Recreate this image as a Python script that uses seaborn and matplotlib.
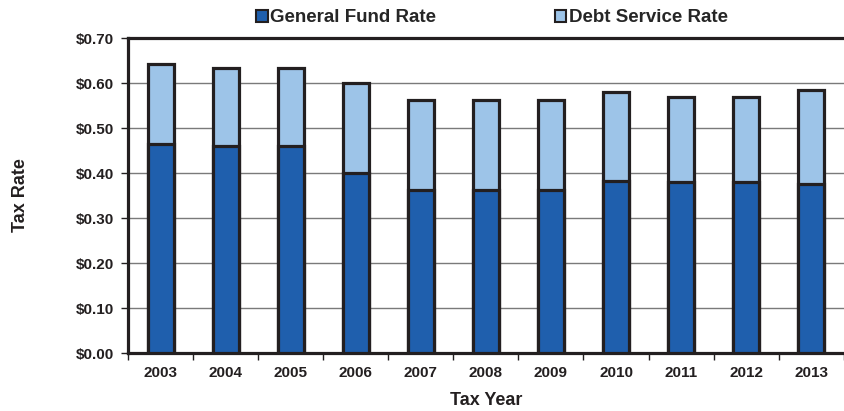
import matplotlib
matplotlib.use("Agg")
import matplotlib.pyplot as plt
import seaborn as sns
import pandas as pd
import numpy as np
from matplotlib.patches import Patch
from matplotlib.ticker import FixedLocator, FuncFormatter

years = ["2003", "2004", "2005", "2006", "2007", "2008", "2009", "2010", "2011", "2012", "2013"]
general_fund = [0.464, 0.459, 0.459, 0.401, 0.362, 0.362, 0.362, 0.383, 0.379, 0.379, 0.375]
debt_service = [0.178, 0.174, 0.174, 0.200, 0.200, 0.200, 0.200, 0.198, 0.190, 0.190, 0.209]

df = pd.DataFrame({"Year": years, "General": general_fund, "Debt": debt_service})
df["Total"] = df["General"] + df["Debt"]

sns.set_style("white")
plt.rcParams["font.family"] = ["Liberation Sans", "DejaVu Sans"]

dark = "#1F5FAD"
light = "#9DC4E8"
edge = "#231F20"

fig = plt.figure(figsize=(8.44, 4.11), dpi=100)
ax = fig.add_axes([0.1517, 0.141, 0.848, 0.7665])

for y in [0.1, 0.2, 0.3, 0.4, 0.5, 0.6]:
    ax.axhline(y, color="#7a7a7a", lw=1.0, zorder=0)

sns.barplot(data=df, x="Year", y="Total", color=light, edgecolor=edge, linewidth=2.3,
            width=0.4, saturation=1, ax=ax, zorder=2)
sns.barplot(data=df, x="Year", y="General", color=dark, edgecolor=edge, linewidth=2.3,
            width=0.4, saturation=1, ax=ax, zorder=3)

ax.set_ylim(0, 0.70)
ax.set_xlim(-0.5, len(years) - 0.5)
ax.set_yticks(np.arange(0, 0.71, 0.1))
ax.yaxis.set_major_formatter(FuncFormatter(lambda v, p: f"${v:.2f}"))
ax.tick_params(axis="y", which="major", direction="out", length=5, width=1, color=edge,
               labelsize=11, pad=5, left=True)
ax.tick_params(axis="x", which="major", length=0, labelsize=11, pad=9)
ax.xaxis.set_minor_locator(FixedLocator(np.arange(-0.5, len(years), 1.0)))
ax.tick_params(axis="x", which="minor", direction="out", length=5, width=1, color=edge, bottom=True)
for lab in ax.get_xticklabels() + ax.get_yticklabels():
    lab.set_fontweight("bold")
    lab.set_color("#231F20")

for side in ["top", "left", "bottom"]:
    ax.spines[side].set_visible(True)
    ax.spines[side].set_color(edge)
    ax.spines[side].set_linewidth(2.3)
ax.spines["right"].set_visible(False)

ax.set_xlabel("Tax Year", fontsize=13, fontweight="bold", color=edge, labelpad=9)
ax.set_ylabel("Tax Rate", fontsize=13, fontweight="bold", color=edge, labelpad=0)
ax.yaxis.set_label_coords(-0.139, 0.5)

handles = [Patch(facecolor=dark, edgecolor=edge, linewidth=1.5, label="General Fund Rate"),
           Patch(facecolor=light, edgecolor=edge, linewidth=1.5, label="Debt Service Rate")]
fig.legend(handles=handles, loc="center", bbox_to_anchor=(0.583, 0.957), ncol=2, frameon=False,
           prop={"size": 13.5, "weight": "bold"}, handlelength=0.6, handleheight=0.6,
           handletextpad=0.15, columnspacing=6.3, borderpad=0.1)

fig.savefig("out.png", dpi=100)
